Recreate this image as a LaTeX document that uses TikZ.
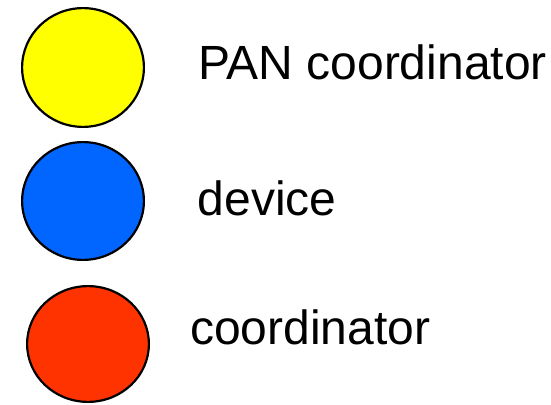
\documentclass[tikz,border=0pt]{standalone}
\usepackage{fontspec}
\setmainfont{Liberation Sans}
\usetikzlibrary{shapes.geometric}
\definecolor{pancol}{HTML}{FFFF00}
\definecolor{devcol}{HTML}{0066FF}
\definecolor{coordcol}{HTML}{FF3300}
\tikzset{
  dot/.style={ellipse, draw=black, line width=2.2pt, inner sep=0pt},
  legendtext/.style={anchor=base west, inner sep=0pt, font=\fontsize{48}{56}\selectfont}
}
\begin{document}
\begin{tikzpicture}[x=1pt,y=1pt]
  \useasboundingbox (0,0) rectangle (551,404);
  % legend symbols
  \node[dot, fill=pancol, minimum width=121.8pt, minimum height=118.8pt] (pan) at (83,336.5) {};
  \node[dot, fill=devcol, minimum width=121.8pt, minimum height=117.8pt] (dev) at (83,203) {};
  \node[dot, fill=coordcol, minimum width=121.8pt, minimum height=115.8pt] (crd) at (88,60) {};
  % legend labels
  \node[legendtext] (panlbl) at (198,324) {PAN coordinator};
  \node[legendtext] (devlbl) at (197.5,188.3) {device};
  \node[legendtext] (crdlbl) at (190,59) {coordinator};
\end{tikzpicture}
\end{document}
